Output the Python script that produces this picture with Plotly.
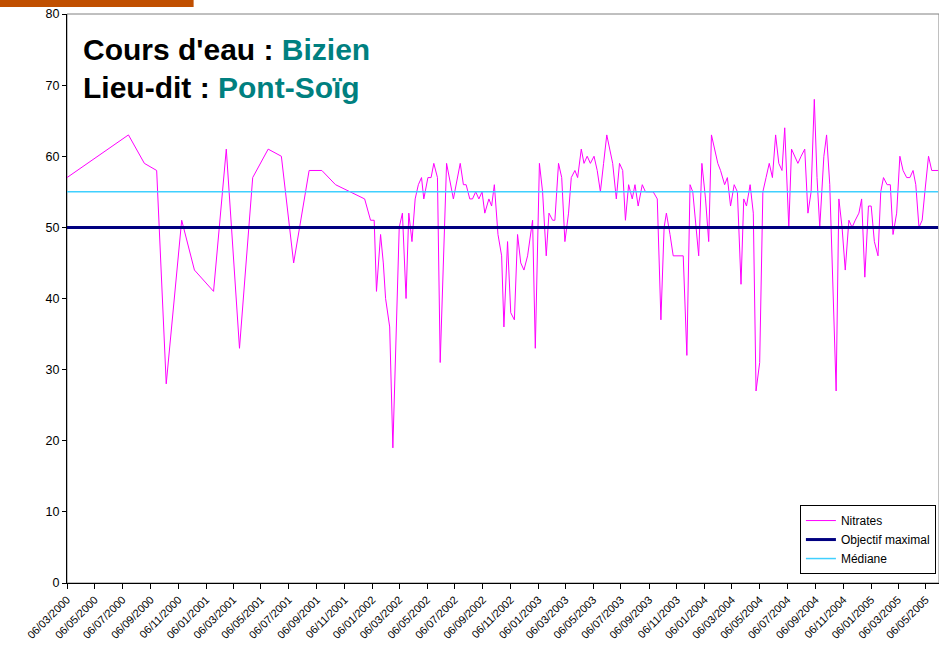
import plotly.graph_objects as go

dates = [
    "2000-03-06", "2000-07-19", "2000-08-23", "2000-09-19", "2000-10-10", "2000-11-13",
    "2000-12-11", "2001-01-22", "2001-02-19", "2001-03-20", "2001-04-18", "2001-05-22",
    "2001-06-20", "2001-07-17", "2001-08-20", "2001-09-17", "2001-10-17", "2001-12-20",
    "2002-01-02", "2002-01-10", "2002-01-15", "2002-01-24", "2002-01-30", "2002-02-04",
    "2002-02-13", "2002-02-20", "2002-03-06", "2002-03-13", "2002-03-21", "2002-03-27",
    "2002-04-03", "2002-04-10", "2002-04-17", "2002-04-24", "2002-04-29", "2002-05-08",
    "2002-05-15", "2002-05-21", "2002-05-29", "2002-06-04", "2002-06-18", "2002-06-26",
    "2002-07-03", "2002-07-18", "2002-07-25", "2002-07-31", "2002-08-08", "2002-08-14",
    "2002-08-21", "2002-08-28", "2002-09-04", "2002-09-10", "2002-09-19", "2002-09-25",
    "2002-10-01", "2002-10-09", "2002-10-17", "2002-10-22", "2002-10-30", "2002-11-06",
    "2002-11-14", "2002-11-21", "2002-11-28", "2002-12-05", "2002-12-13", "2002-12-24",
    "2002-12-30", "2003-01-08", "2003-01-15", "2003-01-23", "2003-01-29", "2003-02-06",
    "2003-02-11", "2003-02-19", "2003-02-26", "2003-03-05", "2003-03-13", "2003-03-19",
    "2003-03-27", "2003-04-02", "2003-04-10", "2003-04-16", "2003-04-23", "2003-04-30",
    "2003-05-08", "2003-05-15", "2003-05-22", "2003-05-29", "2003-06-05", "2003-06-18",
    "2003-06-26", "2003-07-03", "2003-07-10", "2003-07-16", "2003-07-23", "2003-07-31",
    "2003-08-06", "2003-08-13", "2003-08-22", "2003-08-29", "2003-09-15", "2003-09-24",
    "2003-10-02", "2003-10-09", "2003-10-14", "2003-10-22", "2003-10-29", "2003-11-20",
    "2003-11-28", "2003-12-05", "2003-12-11", "2003-12-24", "2003-12-31", "2004-01-08",
    "2004-01-15", "2004-01-21", "2004-02-04", "2004-02-10", "2004-02-19", "2004-02-25",
    "2004-03-03", "2004-03-11", "2004-03-18", "2004-03-26", "2004-04-01", "2004-04-07",
    "2004-04-15", "2004-04-22", "2004-04-28", "2004-05-06", "2004-05-13", "2004-05-20",
    "2004-05-27", "2004-06-03", "2004-06-10", "2004-06-17", "2004-06-24", "2004-06-30",
    "2004-07-09", "2004-07-15", "2004-07-29", "2004-08-05", "2004-08-13", "2004-08-20",
    "2004-08-27", "2004-09-03", "2004-09-09", "2004-09-15", "2004-09-24", "2004-09-30",
    "2004-10-07", "2004-10-21", "2004-10-27", "2004-11-03", "2004-11-10", "2004-11-18",
    "2004-11-25", "2004-12-02", "2004-12-10", "2004-12-16", "2004-12-23", "2004-12-31",
    "2005-01-06", "2005-01-13", "2005-01-21", "2005-01-27", "2005-02-02", "2005-02-10",
    "2005-02-17", "2005-02-23", "2005-03-03", "2005-03-10", "2005-03-17", "2005-03-25",
    "2005-04-01", "2005-04-08", "2005-04-14", "2005-04-21", "2005-04-28", "2005-05-04",
    "2005-05-12", "2005-05-19", "2005-06-02",
]

nitrates = [
    57, 63, 59, 58, 28, 51,
    44, 41, 61, 33, 57, 61,
    60, 45, 58, 58, 56, 54,
    51, 51, 41, 49, 45, 40,
    36, 19, 50, 52, 40, 52,
    48, 54, 56, 57, 54, 57,
    57, 59, 57, 31, 59, 56,
    54, 59, 56, 56, 54, 54,
    55, 54, 55, 52, 54, 53,
    56, 49, 46, 36, 48, 38,
    37, 49, 45, 44, 46, 51,
    33, 59, 55, 46, 52, 51,
    51, 59, 57, 48, 52, 57,
    58, 57, 61, 59, 60, 59,
    60, 58, 55, 59, 63, 59,
    54, 59, 58, 51, 56, 54,
    56, 53, 56, 55, 55, 54,
    37, 50, 52, 49, 46, 46,
    32, 56, 55, 46, 59, 54,
    48, 63, 59, 58, 56, 57,
    53, 56, 55, 42, 54, 53,
    56, 52, 27, 31, 55, 57,
    59, 57, 63, 59, 58, 64,
    50, 61, 59, 60, 61, 52,
    55, 68, 57, 50, 60, 63,
    56, 27, 54, 50, 44, 51,
    50, 51, 52, 54, 43, 53,
    53, 48, 46, 55, 57, 56,
    56, 49, 52, 60, 58, 57,
    57, 58, 56, 50, 51, 55,
    60, 58, 58,
]

objectif_maximal = 50
mediane = 55

tick_dates = [
    "2000-03-06", "2000-05-06", "2000-07-06", "2000-09-06", "2000-11-06",
    "2001-01-06", "2001-03-06", "2001-05-06", "2001-07-06", "2001-09-06", "2001-11-06",
    "2002-01-06", "2002-03-06", "2002-05-06", "2002-07-06", "2002-09-06", "2002-11-06",
    "2003-01-06", "2003-03-06", "2003-05-06", "2003-07-06", "2003-09-06", "2003-11-06",
    "2004-01-06", "2004-03-06", "2004-05-06", "2004-07-06", "2004-09-06", "2004-11-06",
    "2005-01-06", "2005-03-06", "2005-05-06",
]
tick_labels = ["/".join(reversed(d.split("-"))) for d in tick_dates]

title_river = "Bizien"
title_place = "Pont-Soïg"

FONT = "Liberation Sans, Arial, sans-serif"

fig = go.Figure()
fig.add_trace(go.Scatter(x=dates, y=nitrates, mode="lines", name="Nitrates",
                         line=dict(color="#FF00FF", width=1)))
fig.add_trace(go.Scatter(x=[dates[0], dates[-1]], y=[objectif_maximal] * 2, mode="lines",
                         name="Objectif maximal", line=dict(color="#000080", width=3)))
fig.add_trace(go.Scatter(x=[dates[0], dates[-1]], y=[mediane] * 2, mode="lines",
                         name="Médiane", line=dict(color="#40D0FF", width=1.5)))

fig.update_layout(
    width=939, height=649,
    margin=dict(l=67, r=0, t=14, b=66, autoexpand=False),
    paper_bgcolor="white", plot_bgcolor="white",
    font=dict(family=FONT, size=12, color="black"),
    showlegend=True,
    legend=dict(x=0.8405, y=0.137, xanchor="left", yanchor="top",
                bordercolor="black", borderwidth=1, bgcolor="white",
                font=dict(size=12), tracegroupgap=0, itemwidth=30),
    xaxis=dict(type="date", range=["2000-03-06", "2005-06-04"], automargin=False,
               tickvals=tick_dates, ticktext=tick_labels, tickangle=-45,
               ticks="outside", ticklen=5, tickcolor="black",
               showline=True, linecolor="black", linewidth=1,
               showgrid=False, zeroline=False, tickfont=dict(size=11)),
    yaxis=dict(range=[0, 80], dtick=10, ticks="outside", ticklen=4, tickcolor="black",
               automargin=False,
               showline=True, linecolor="black", linewidth=1,
               showgrid=False, zeroline=False, tickfont=dict(size=12.5)),
    shapes=[
        dict(type="rect", xref="paper", yref="paper", x0=0, x1=1, y0=0, y1=1,
             line=dict(color="#808080", width=1), layer="below"),
        dict(type="rect", xref="paper", yref="paper", x0=-0.078, x1=0.1452,
             y0=1.0123, y1=1.03, fillcolor="#C04F00", line=dict(width=0)),
    ],
    annotations=[
        dict(xref="paper", yref="paper", x=0.0155, y=0.938, xanchor="left", yanchor="middle",
             showarrow=False, font=dict(size=30, family=FONT, color="black"),
             text="<b>Cours d'eau : <span style='color:#008080'>" + title_river + "</span></b>"),
        dict(xref="paper", yref="paper", x=0.0155, y=0.870, xanchor="left", yanchor="middle",
             showarrow=False, font=dict(size=30, family=FONT, color="black"),
             text="<b>Lieu-dit : <span style='color:#008080'>" + title_place + "</span></b>"),
    ],
)

fig.write_html("out.html", config={"displayModeBar": False},
               post_script="document.body.style.margin='0';")
